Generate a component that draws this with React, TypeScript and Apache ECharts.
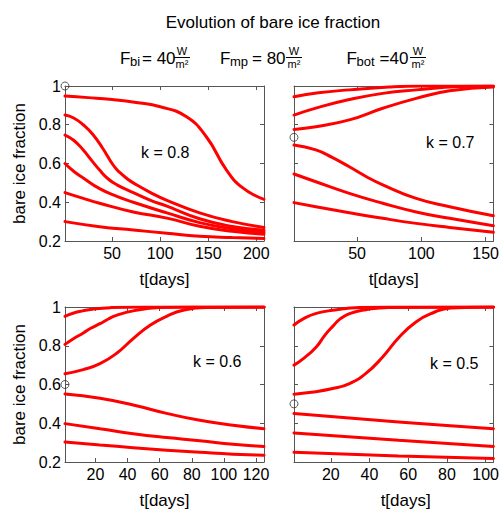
import React, { useEffect, useRef } from "react";
import * as echarts from "echarts";

const FONT = "'Liberation Sans', Arial, Helvetica, sans-serif";
const RED = "#ff0000";
const AXIS = "#555555";

// ---- tick labels ----
const xTicksK08 = [50, 100, 150, 200];
const xTicksK07 = [50, 100, 150];
const xTicksK06 = [20, 40, 60, 80, 100, 120];
const xTicksK05 = [20, 40, 60, 80, 100];

// ---- x ranges (days) ----
const xMaxK08 = 208;
const xMaxK07 = 156;
const xMaxK06 = 125;
const xMaxK05 = 104;

// ---- k = 0.8 ----
const k08a = [[1, 0.948], [25, 0.94], [50, 0.93], [75, 0.915], [100, 0.893], [127, 0.842], [148, 0.738], [169, 0.566], [186, 0.474], [208, 0.415]];
const k08b = [[1, 0.85], [10, 0.835], [20, 0.8], [30, 0.75], [40, 0.68], [45, 0.64], [50, 0.6], [55, 0.568], [60, 0.545], [66, 0.52], [72, 0.5], [90, 0.45], [107, 0.41], [141, 0.345], [175, 0.3], [208, 0.27]];
const k08c = [[1, 0.747], [10, 0.72], [20, 0.67], [28, 0.62], [37, 0.566], [46, 0.52], [55, 0.49], [72, 0.45], [90, 0.41], [107, 0.38], [141, 0.315], [175, 0.275], [208, 0.255]];
const k08d = [[1, 0.6], [10, 0.56], [20, 0.525], [37, 0.47], [55, 0.43], [72, 0.4], [107, 0.345], [141, 0.295], [175, 0.263], [208, 0.245]];
const k08e = [[1, 0.45], [20, 0.42], [37, 0.395], [72, 0.35], [107, 0.318], [141, 0.276], [175, 0.25], [208, 0.235]];
const k08f = [[1, 0.3], [37, 0.274], [72, 0.257], [107, 0.24], [141, 0.225], [175, 0.218], [208, 0.213]];
const k08circle = 1.0;

// ---- k = 0.7 ----
const k07a = [[1, 0.945], [20, 0.965], [44, 0.98], [75, 0.995], [100, 1], [156, 1]];
const k07b = [[1, 0.85], [18, 0.886], [44, 0.93], [70, 0.962], [96, 0.98], [130, 0.997], [156, 1]];
const k07c = [[1, 0.776], [18, 0.79], [44, 0.825], [70, 0.885], [96, 0.936], [122, 0.976], [156, 0.995]];
const k07d = [[1, 0.695], [18, 0.67], [31, 0.63], [44, 0.583], [57, 0.533], [70, 0.49], [96, 0.42], [122, 0.377], [156, 0.33]];
const k07e = [[1, 0.546], [18, 0.506], [44, 0.446], [70, 0.395], [96, 0.35], [122, 0.317], [156, 0.279]];
const k07f = [[1, 0.398], [18, 0.377], [44, 0.346], [70, 0.317], [96, 0.291], [122, 0.27], [156, 0.245]];
const k07circle = 0.735;

// ---- k = 0.6 ----
const k06a = [[1, 0.952], [6, 0.968], [12, 0.98], [20, 0.991], [30, 0.997], [50, 1], [125, 1]];
const k06b = [[1, 0.807], [6, 0.835], [12.4, 0.866], [17, 0.89], [22.8, 0.914], [28, 0.938], [33, 0.957], [43.5, 0.98], [60, 0.997], [80, 1], [125, 1]];
const k06c = [[1, 0.656], [12.4, 0.677], [22.8, 0.708], [33, 0.76], [43.5, 0.837], [54, 0.906], [64.3, 0.952], [74.6, 0.983], [90, 0.998], [125, 1]];
const k06d = [[1, 0.551], [22.8, 0.529], [43.5, 0.494], [64.3, 0.451], [85, 0.415], [105.7, 0.39], [125, 0.372]];
const k06e = [[1, 0.398], [22.8, 0.372], [43.5, 0.346], [64.3, 0.326], [85, 0.31], [105.7, 0.291], [125, 0.28]];
const k06f = [[1, 0.303], [22.8, 0.288], [43.5, 0.274], [64.3, 0.261], [85, 0.25], [105.7, 0.24], [125, 0.235]];
const k06circle = 0.6;

// ---- k = 0.5 ----
const k05a = [[1, 0.907], [6, 0.94], [12.5, 0.967], [21, 0.983], [35, 0.998], [50, 1], [104, 1]];
const k05b = [[1, 0.7], [6, 0.735], [12.5, 0.794], [17, 0.855], [21, 0.9], [25, 0.94], [29.7, 0.966], [38, 0.986], [50, 0.998], [104, 1]];
const k05c = [[1, 0.55], [10, 0.56], [21, 0.579], [29.7, 0.605], [38, 0.656], [46.8, 0.742], [55.4, 0.845], [64, 0.923], [72.6, 0.969], [82, 0.995], [104, 1]];
const k05d = [[1, 0.45], [55, 0.406], [104, 0.372]];
const k05e = [[1, 0.35], [55, 0.312], [104, 0.28]];
const k05f = [[1, 0.25], [55, 0.231], [104, 0.218]];
const k05circle = 0.5;

const panels = [
  { grid: { left: 65, top: 86, width: 199, height: 155 }, xMax: xMaxK08, xTicks: xTicksK08, curves: [k08a, k08b, k08c, k08d, k08e, k08f], circle: k08circle, leftLabels: true, k: "k = 0.8", kx: 141, ky: 153, xNamePad: 0 },
  { grid: { left: 294, top: 86, width: 200, height: 155 }, xMax: xMaxK07, xTicks: xTicksK07, curves: [k07a, k07b, k07c, k07d, k07e, k07f], circle: k07circle, leftLabels: false, k: "k = 0.7", kx: 426, ky: 143, xNamePad: 0 },
  { grid: { left: 65, top: 307, width: 199, height: 155 }, xMax: xMaxK06, xTicks: xTicksK06, curves: [k06a, k06b, k06c, k06d, k06e, k06f], circle: k06circle, leftLabels: true, k: "k = 0.6", kx: 193, ky: 362, xNamePad: 0 },
  { grid: { left: 294, top: 307, width: 200, height: 155 }, xMax: xMaxK05, xTicks: xTicksK05, curves: [k05a, k05b, k05c, k05d, k05e, k05f], circle: k05circle, leftLabels: false, k: "k = 0.5", kx: 430, ky: 364, xNamePad: 24 },
];

function fracTerm(fx: number, sub: string, subx: number, eqText: string, eqx: number, cx: number) {
  return [
    { type: "text", left: fx, top: 50, style: { text: "F", font: `17px ${FONT}`, fill: "#000" } },
    { type: "text", left: subx, top: 55, style: { text: sub, font: `13px ${FONT}`, fill: "#000" } },
    { type: "text", left: eqx, top: 50, style: { text: eqText, font: `17px ${FONT}`, fill: "#000" } },
    { type: "text", x: cx, y: 51, style: { text: "W", font: `11px ${FONT}`, fill: "#000", align: "center", verticalAlign: "middle" } },
    { type: "line", shape: { x1: cx - 8, y1: 57.5, x2: cx + 8, y2: 57.5 }, style: { stroke: "#000", lineWidth: 1 } },
    { type: "text", x: cx, y: 64, style: { text: "m²", font: `11px ${FONT}`, fill: "#000", align: "center", verticalAlign: "middle" } },
  ];
}

export default function App() {
  const ref = useRef<HTMLDivElement>(null);
  useEffect(() => {
    if (!ref.current) return;
    const chart = echarts.init(ref.current, undefined, { renderer: "svg" });
    const xAxis: any[] = [];
    const yAxis: any[] = [];
    const series: any[] = [];
    const graphic: any[] = [];
    panels.forEach((p, i) => {
      xAxis.push({
        type: "value", gridIndex: i, min: 1, max: p.xMax, position: "bottom",
        axisLine: { show: true, onZero: false, lineStyle: { color: AXIS, width: 1 } },
        axisTick: { show: true, inside: true, length: 4, customValues: p.xTicks, lineStyle: { color: AXIS } },
        axisLabel: { show: true, customValues: p.xTicks, fontSize: 16, color: "#000", fontFamily: FONT, margin: 4 },
        splitLine: { show: false },
        name: "t[days]", nameLocation: "middle", nameGap: 30,
        nameTextStyle: { fontSize: 17, color: "#000", fontFamily: FONT, padding: [0, 0, 0, p.xNamePad] },
      });
      xAxis.push({
        type: "value", gridIndex: i, min: 1, max: p.xMax, position: "top",
        axisLine: { show: true, onZero: false, lineStyle: { color: AXIS, width: 1 } },
        axisTick: { show: true, inside: true, length: 4, customValues: p.xTicks, lineStyle: { color: AXIS } },
        axisLabel: { show: false },
        splitLine: { show: false },
      });
      yAxis.push({
        type: "value", gridIndex: i, min: 0.2, max: 1, interval: 0.2, position: "left",
        axisLine: { show: true, onZero: false, lineStyle: { color: AXIS, width: 1 } },
        axisTick: { show: true, inside: true, length: 4, lineStyle: { color: AXIS } },
        axisLabel: {
          show: p.leftLabels, fontSize: 16, color: "#000", fontFamily: FONT, margin: 4,
          formatter: (v: number) => (Math.abs(v - 1) < 1e-9 ? "1" : v.toFixed(1)),
        },
        splitLine: { show: false },
        name: p.leftLabels ? "bare ice fraction" : "", nameLocation: "middle", nameGap: 37,
        nameTextStyle: { fontSize: 17, color: "#000", fontFamily: FONT },
      });
      yAxis.push({
        type: "value", gridIndex: i, min: 0.2, max: 1, interval: 0.2, position: "right",
        axisLine: { show: true, onZero: false, lineStyle: { color: AXIS, width: 1 } },
        axisTick: { show: true, inside: true, length: 4, lineStyle: { color: AXIS } },
        axisLabel: { show: false },
        splitLine: { show: false },
      });
      p.curves.forEach((c) => {
        series.push({
          type: "line", xAxisIndex: 2 * i, yAxisIndex: 2 * i, data: c,
          showSymbol: false, symbol: "none", smooth: 0.5,
          lineStyle: { color: RED, width: 3, cap: "round", join: "round" }, silent: true, z: 2,
        });
      });
      series.push({
        type: "scatter", xAxisIndex: 2 * i, yAxisIndex: 2 * i, data: [[1, p.circle]],
        symbol: "circle", symbolSize: 8, clip: false, silent: true, z: 5,
        itemStyle: { color: "rgba(0,0,0,0)", borderColor: "#333", borderWidth: 1 },
      });
      graphic.push({ type: "text", left: p.kx, top: p.ky - 9, style: { text: p.k, font: `16px ${FONT}`, fill: "#000" } });
    });
    graphic.push({ type: "text", x: 273, y: 22, style: { text: "Evolution of bare ice fraction", font: `17px ${FONT}`, fill: "#000", align: "center", verticalAlign: "middle" } });
    graphic.push(...fracTerm(120, "bi", 130, "= 40", 142, 182));
    graphic.push(...fracTerm(220, "mp", 230, "= 80", 252, 294));
    graphic.push(...fracTerm(346.5, "bot", 356.5, "=40", 379.5, 418));

    chart.setOption({
      animation: false,
      backgroundColor: "#fff",
      grid: panels.map((p) => ({ ...p.grid, containLabel: false })),
      xAxis, yAxis, series, graphic,
    });
    return () => chart.dispose();
  }, []);
  return <div ref={ref} style={{ position: "fixed", left: 0, top: 0, width: 502, height: 511 }} />;
}
